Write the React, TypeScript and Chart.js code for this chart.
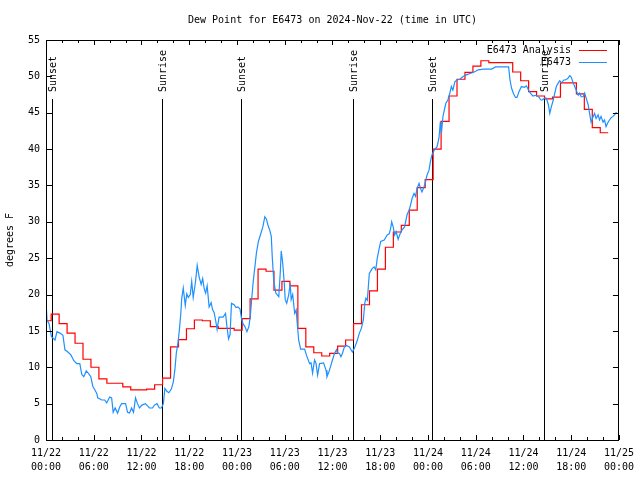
import React, { useEffect, useRef } from 'react';
import { Chart, registerables } from 'chart.js';

Chart.register(...registerables);

const TITLE = 'Dew Point for E6473 on 2024-Nov-22 (time in UTC)';
const Y_AXIS_LABEL = 'degrees F';
const SERIES_NAMES = ['E6473 Analysis', 'E6473'];
const SERIES_COLORS = ['#ff0000', '#1e90ff'];

// x axis: hours since 2024-11-22 00:00 UTC
const X_MIN = 0;
const X_MAX = 72;
const X_TICK_LABELS = [
  ['11/22', '00:00'], ['11/22', '06:00'], ['11/22', '12:00'], ['11/22', '18:00'],
  ['11/23', '00:00'], ['11/23', '06:00'], ['11/23', '12:00'], ['11/23', '18:00'],
  ['11/24', '00:00'], ['11/24', '06:00'], ['11/24', '12:00'], ['11/24', '18:00'],
  ['11/25', '00:00'],
];
const Y_MIN = 0;
const Y_MAX = 55;

// Sun events (hours) and labels
const SUN_EVENT_HOURS = [0.7, 14.54, 24.54, 38.54, 48.54, 62.54];
const SUN_EVENT_LABELS = ['Sunset', 'Sunrise', 'Sunset', 'Sunrise', 'Sunset', 'Sunrise'];
const SUN_LINE_TOP = 46.9; // degrees F at which the marker lines end

// Hourly analysis: value for hour h holds from h-0.35 to h+0.65
const ANALYSIS_OFFSET = -0.35;
const analysisValues = [
  16.4, 17.3, 16.0, 14.7, 13.3, 11.1, 10.0, 8.4, 7.8, 7.8,
  7.3, 6.9, 6.9, 7.0, 7.6, 8.5, 12.8, 13.8, 15.3, 16.5,
  16.4, 15.6, 15.35, 15.35, 15.1, 16.7, 19.4, 23.5, 23.2, 20.6,
  21.8, 21.2, 15.35, 12.8, 12.0, 11.55, 11.9, 12.9, 13.75, 16.0,
  18.6, 20.5, 23.5, 26.5, 28.6, 29.5, 31.6, 34.7, 35.8, 40.0,
  43.8, 47.3, 49.6, 50.55, 51.4, 52.15, 51.9, 51.9, 51.9, 50.6,
  49.4, 47.9, 47.3, 46.9, 47.15, 49.1, 49.1, 47.6, 45.45, 42.95,
  42.25,
];

// Observations
const obsHours = [
  0, 0.13, 0.38, 0.69, 1.13, 1.38, 1.75, 2.13, 2.38, 2.75,
  3.13, 3.5, 3.88, 4.25, 4.5, 4.75, 5.06, 5.38, 5.63, 5.88,
  6.13, 6.38, 6.5, 7.0, 7.38, 7.63, 8.0, 8.25, 8.44, 8.69,
  9.0, 9.25, 9.5, 10.0, 10.25, 10.5, 10.75, 11.0, 11.25, 11.5,
  11.75, 12.06, 12.5, 13.0, 13.38, 13.63, 13.94, 14.25, 14.5, 14.75,
  14.94, 15.19, 15.44, 15.75, 16.0, 16.19, 16.38, 16.56, 16.75, 16.94,
  17.06, 17.25, 17.5, 17.69, 17.88, 18.13, 18.31, 18.5, 18.69, 18.81,
  19.0, 19.25, 19.5, 19.69, 19.88, 20.06, 20.25, 20.5, 20.75, 20.94,
  21.13, 21.31, 21.5, 21.75, 22.25, 22.56, 22.75, 22.94, 23.13, 23.31,
  23.63, 23.88, 24.13, 24.38, 24.56, 24.75, 25.0, 25.25, 25.5, 25.69,
  25.88, 26.06, 26.25, 26.44, 26.69, 27.0, 27.25, 27.5, 27.69, 27.88,
  28.13, 28.31, 28.44, 28.63, 28.88, 29.25, 29.44, 29.56, 29.75, 29.94,
  30.06, 30.25, 30.5, 30.69, 30.81, 31.0, 31.25, 31.44, 31.56, 31.75,
  32.0, 32.5, 32.75, 33.13, 33.31, 33.5, 33.75, 33.94, 34.13, 34.38,
  34.88, 35.19, 35.31, 35.56, 35.81, 36.0, 36.25, 36.5, 36.63, 36.88,
  37.06, 37.25, 37.5, 37.75, 38.13, 38.5, 38.75, 39.06, 39.38, 39.63,
  39.88, 40.06, 40.19, 40.38, 40.63, 41.0, 41.25, 41.44, 41.63, 41.88,
  42.06, 42.5, 42.88, 43.13, 43.31, 43.44, 43.63, 43.81, 44.0, 44.25,
  44.5, 44.75, 45.06, 45.38, 45.63, 45.81, 46.0, 46.25, 46.44, 46.63,
  46.88, 47.06, 47.25, 47.5, 47.69, 47.88, 48.13, 48.31, 48.5, 48.81,
  49.13, 49.38, 49.56, 49.69, 49.88, 50.06, 50.25, 50.5, 50.75, 50.94,
  51.13, 51.38, 51.63, 52.0, 52.38, 52.81, 53.31, 53.81, 54.31, 55.0,
  56.0, 56.5, 57.5, 58.13, 58.31, 58.5, 58.75, 59.0, 59.19, 59.44,
  59.75, 60.13, 60.38, 60.69, 60.94, 61.19, 61.56, 61.94, 62.19, 62.38,
  62.63, 62.88, 63.13, 63.31, 63.5, 63.75, 63.94, 64.13, 64.38, 64.56,
  64.81, 65.06, 65.25, 65.56, 65.81, 66.0, 66.25, 66.44, 66.63, 66.88,
  67.06, 67.25, 67.5, 67.69, 67.88, 68.13, 68.31, 68.5, 68.75, 68.94,
  69.13, 69.38, 69.56, 69.75, 70.0, 70.19, 70.38, 70.63, 70.81, 71.0,
  71.25, 71.44, 71.69,
];
const obsValues = [
  19.0, 16.5, 16.0, 14.2, 13.75, 14.9, 14.7, 14.4, 12.4, 12.1,
  11.7, 10.9, 10.5, 10.5, 9.0, 8.7, 9.5, 9.1, 8.7, 7.4,
  6.9, 6.4, 5.8, 5.5, 5.5, 5.1, 5.9, 5.8, 3.8, 4.4,
  3.7, 4.5, 5.0, 5.0, 3.8, 3.7, 4.4, 3.8, 5.8, 5.0,
  4.4, 4.8, 5.0, 4.4, 4.4, 4.8, 5.0, 4.4, 4.4, 5.0,
  7.1, 6.7, 6.5, 7.0, 8.0, 9.6, 12.0, 13.1, 15.0, 17.4,
  19.5, 20.9, 18.5, 20.1, 19.6, 20.0, 21.8, 19.6, 21.0, 22.0,
  24.0, 22.4, 21.4, 22.2, 20.8, 20.2, 21.2, 18.3, 18.9, 17.9,
  17.5, 16.5, 15.2, 16.9, 16.9, 17.4, 15.5, 13.9, 14.5, 18.8,
  18.6, 18.2, 18.3, 18.0, 16.8, 16.0, 15.6, 14.9, 15.6, 17.2,
  19.8, 22.0, 23.8, 25.7, 27.3, 28.4, 29.3, 30.7, 30.4, 29.6,
  28.8, 28.0, 25.0, 21.8, 20.2, 19.7, 23.0, 26.0, 24.3, 21.6,
  19.3, 18.8, 20.0, 21.5, 19.3, 20.0, 17.4, 17.9, 16.2, 13.75,
  12.5, 12.5, 11.6, 10.5, 10.6, 9.2, 11.0, 10.5, 8.9, 10.5,
  10.6, 9.6, 8.7, 9.4, 10.3, 11.0, 11.9, 12.4, 12.0, 11.9,
  11.45, 11.9, 12.8, 13.0, 12.8, 12.1, 12.6, 13.5, 14.7, 15.35,
  16.5, 18.8, 19.5, 19.2, 22.9, 23.6, 23.8, 23.4, 25.0, 26.4,
  27.3, 27.5, 28.2, 28.35, 29.1, 30.0, 29.3, 28.2, 28.65, 27.6,
  28.35, 28.9, 29.3, 31.0, 31.6, 32.3, 33.2, 33.9, 33.5, 34.6,
  35.3, 34.6, 34.1, 34.8, 35.5, 36.4, 37.1, 38.3, 39.2, 39.9,
  40.3, 41.5, 43.8, 42.2, 44.45, 45.4, 46.3, 46.75, 47.7, 48.6,
  48.1, 49.25, 49.5, 49.6, 49.95, 50.2, 50.4, 50.6, 50.9, 51.0,
  51.0, 51.3, 51.3, 51.3, 49.5, 48.4, 47.6, 47.1, 47.1, 47.9,
  48.6, 48.5, 48.7, 48.0, 47.6, 47.3, 47.4, 47.15, 46.75, 46.75,
  47.0, 47.0, 46.1, 44.9, 45.8, 46.75, 47.7, 48.6, 49.1, 49.4,
  49.1, 49.5, 49.5, 49.7, 50.1, 49.9, 49.1, 48.6, 48.1, 47.4,
  47.7, 47.2, 47.2, 47.7, 47.0, 46.1, 44.9, 43.7, 44.45, 44.9,
  44.2, 44.7, 44.0, 44.5, 43.7, 44.0, 43.1, 43.7, 44.0, 44.3,
  44.5, 44.7, 45.1,
];

const FONT_FAMILY = '"DejaVu Sans Mono", "Liberation Mono", monospace';
const FONT_SIZE = 10;
const CSS_FONT = `${FONT_SIZE}px ${FONT_FAMILY}`;

const gnuplotPlugin = {
  id: 'gnuplotDecor',
  beforeDatasetsDraw(chart: any) {
    const { ctx, chartArea: a, scales } = chart;
    const x = scales.x;
    const y = scales.y;
    ctx.save();
    ctx.strokeStyle = '#000';
    ctx.lineWidth = 1;
    ctx.fillStyle = '#000';
    ctx.font = CSS_FONT;
    const top = Math.round(y.getPixelForValue(SUN_LINE_TOP));
    SUN_EVENT_HOURS.forEach((h, i) => {
      const px = Math.round(x.getPixelForValue(h)) + 0.5;
      ctx.beginPath();
      ctx.moveTo(px, a.bottom);
      ctx.lineTo(px, top);
      ctx.stroke();
      ctx.save();
      ctx.translate(px + 1, top - 7);
      ctx.rotate(-Math.PI / 2);
      ctx.textAlign = 'left';
      ctx.textBaseline = 'middle';
      ctx.fillText(SUN_EVENT_LABELS[i], 0, 0);
      ctx.restore();
    });
    ctx.restore();
  },
  afterDatasetsDraw(chart: any) {
    const { ctx, chartArea: a, scales } = chart;
    const x = scales.x;
    const y = scales.y;
    ctx.save();
    ctx.strokeStyle = '#000';
    ctx.lineWidth = 1;
    // frame
    ctx.strokeRect(Math.round(a.left) + 0.5, Math.round(a.top) + 0.5,
      Math.round(a.right - a.left) - 1, Math.round(a.bottom - a.top));
    // y ticks (inward, both sides)
    ctx.beginPath();
    for (let v = Y_MIN; v <= Y_MAX; v += 5) {
      const py = Math.round(y.getPixelForValue(v)) + 0.5;
      ctx.moveTo(a.left, py);
      ctx.lineTo(a.left + 6, py);
      ctx.moveTo(a.right, py);
      ctx.lineTo(a.right - 6, py);
    }
    // x ticks every 2 hours, longer every 6
    for (let h = X_MIN; h <= X_MAX; h += 2) {
      const px = Math.round(x.getPixelForValue(h)) + 0.5;
      const len = h % 6 === 0 ? 5 : 3;
      ctx.moveTo(px, a.bottom);
      ctx.lineTo(px, a.bottom - len);
      ctx.moveTo(px, a.top);
      ctx.lineTo(px, a.top + len);
    }
    ctx.stroke();

    // title
    ctx.fillStyle = '#000';
    ctx.font = CSS_FONT;
    ctx.textAlign = 'center';
    ctx.textBaseline = 'middle';
    ctx.fillText(TITLE, (a.left + a.right) / 2, a.top - 20);

    // legend
    ctx.textAlign = 'right';
    SERIES_NAMES.forEach((name, i) => {
      const ly = a.top + 10 + i * 12;
      ctx.fillStyle = '#000';
      ctx.fillText(name, a.right - 48, ly);
      ctx.strokeStyle = SERIES_COLORS[i];
      ctx.beginPath();
      ctx.moveTo(a.right - 40, Math.round(ly) + 0.5);
      ctx.lineTo(a.right - 12, Math.round(ly) + 0.5);
      ctx.stroke();
    });
    ctx.restore();
  },
};

export default function App() {
  const canvasRef = useRef<HTMLCanvasElement | null>(null);

  useEffect(() => {
    document.body.style.margin = '0';
    const canvas = canvasRef.current;
    if (!canvas) return;

    const analysisData = analysisValues.map((v, h) => ({ x: h + ANALYSIS_OFFSET, y: v }));
    analysisData.push({ x: analysisValues.length + ANALYSIS_OFFSET, y: analysisValues[analysisValues.length - 1] });
    const obsData = obsHours.map((h, i) => ({ x: h, y: obsValues[i] }));

    const chart = new Chart(canvas, {
      type: 'line',
      data: {
        datasets: [
          {
            label: SERIES_NAMES[0],
            data: analysisData,
            borderColor: SERIES_COLORS[0],
            borderWidth: 1.2,
            stepped: true,
            pointRadius: 0,
            fill: false,
            order: 1,
          },
          {
            label: SERIES_NAMES[1],
            data: obsData,
            borderColor: SERIES_COLORS[1],
            borderWidth: 1.2,
            pointRadius: 0,
            tension: 0,
            fill: false,
            order: 0,
          },
        ],
      },
      options: {
        animation: false,
        responsive: false,
        maintainAspectRatio: false,
        devicePixelRatio: 1,
        layout: { padding: { top: 40, right: 18, left: 0, bottom: 0 } },
        plugins: {
          legend: { display: false },
          title: { display: false },
          tooltip: { enabled: false },
        },
        scales: {
          x: {
            type: 'linear',
            min: X_MIN,
            max: X_MAX,
            grid: { display: false, drawTicks: false, tickLength: 0 },
            border: { display: false },
            afterFit: (scale: any) => { scale.height = 40; },
            ticks: {
              stepSize: 6,
              autoSkip: false,
              maxRotation: 0,
              minRotation: 0,
              padding: 6,
              color: '#000',
              font: { family: FONT_FAMILY, size: FONT_SIZE, lineHeight: 1.4 },
              callback: (_v: any, i: number) => X_TICK_LABELS[i],
            },
          },
          y: {
            type: 'linear',
            min: Y_MIN,
            max: Y_MAX,
            grid: { display: false, drawTicks: false, tickLength: 0 },
            border: { display: false },
            afterFit: (scale: any) => { scale.width = 46; },
            title: {
              display: true,
              text: Y_AXIS_LABEL,
              color: '#000',
              font: { family: FONT_FAMILY, size: FONT_SIZE, lineHeight: 1.2 },
              padding: { top: 4, bottom: 0 },
            },
            ticks: {
              stepSize: 5,
              padding: 6,
              color: '#000',
              font: { family: FONT_FAMILY, size: FONT_SIZE },
            },
          },
        },
      },
      plugins: [gnuplotPlugin],
    });

    return () => chart.destroy();
  }, []);

  return (
    <div style={{ width: 640, height: 480, background: '#fff' }}>
      <canvas ref={canvasRef} width={640} height={480} style={{ display: 'block' }} />
    </div>
  );
}
